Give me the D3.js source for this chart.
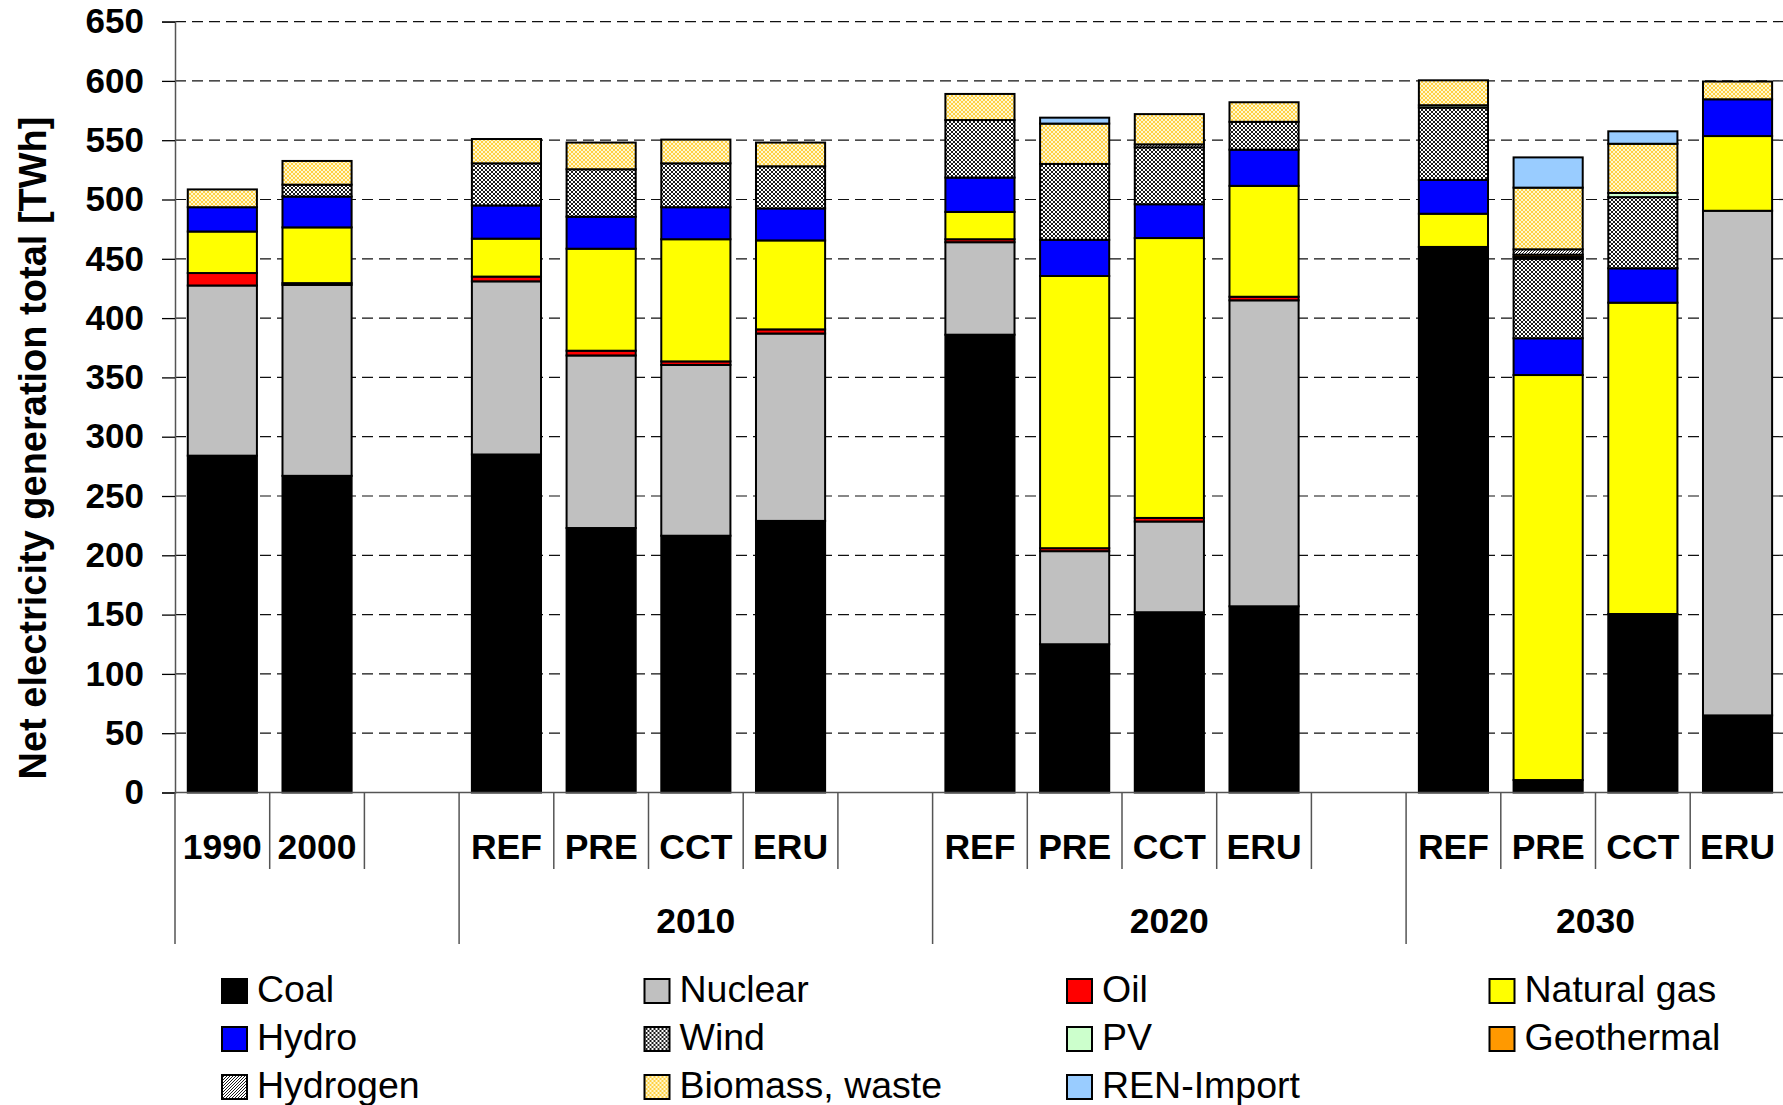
<!DOCTYPE html>
<html>
<head>
<meta charset="utf-8">
<script src="https://cdn.jsdelivr.net/npm/d3@7"></script>
<style>
  body { margin: 0; background: #fff; }
  svg { display: block; font-family: "Liberation Sans", Arial, sans-serif; }
</style>
</head>
<body>
<svg id="chart"></svg>
<script>
// categories (17 slots, blanks are spacer columns)
const categories = ["1990", "2000", "", "REF", "PRE", "CCT", "ERU", "", "REF", "PRE", "CCT", "ERU", "", "REF", "PRE", "CCT", "ERU"];
const groups = [
    {label: "", from: 0, to: 3},
    {label: "2010", from: 3, to: 8},
    {label: "2020", from: 8, to: 13},
    {label: "2030", from: 13, to: 17}
];

// TWh per source, one value per slot
const coal       = [284, 267, 0, 285, 223, 216.5, 229, 0, 386, 125, 152, 157, 0, 460, 10.5, 150.5, 65];
const nuclear    = [143.5, 161, 0, 146, 145.5, 144, 158, 0, 78, 78.5, 76.5, 258, 0, 0, 0, 0, 425.5];
const oil        = [10.5, 1.5, 0, 4, 4, 3, 3.5, 0, 2.5, 2.5, 3, 3, 0, 0, 0, 0, 0];
const naturalGas = [35, 47, 0, 32, 86, 103, 75, 0, 23, 229.5, 236, 93.5, 0, 28, 341.5, 262.5, 63];
const hydro      = [20.5, 26, 0, 28, 27, 27, 27, 0, 29, 30.5, 28.5, 30.5, 0, 28.5, 31, 29, 31];
const wind       = [0, 10, 0, 35.5, 40, 37, 35.5, 0, 48.5, 64, 48, 23.5, 0, 61, 67, 60, 0];
const pv         = [0, 0, 0, 0, 0, 0, 0, 0, 0, 0, 0, 0, 0, 2, 1.5, 3.5, 0];
const geothermal = [0, 0, 0, 0, 0, 0, 0, 0, 0, 0, 0, 0, 0, 0, 2, 0, 0];
const hydrogen   = [0, 0, 0, 0, 0, 0, 0, 0, 0, 0, 2.5, 0, 0, 0, 4.5, 0, 0];
const biomass    = [15, 20, 0, 20.5, 22.5, 20, 20, 0, 22, 34, 25.5, 16.5, 0, 21, 52, 41.5, 15];
const renImport  = [0, 0, 0, 0, 0, 0, 0, 0, 0, 5, 0, 0, 0, 0, 25.5, 10.5, 0];

const series = [
    {key: "coal", name: "Coal", values: coal, fill: "#000000"},
    {key: "nuclear", name: "Nuclear", values: nuclear, fill: "#C0C0C0"},
    {key: "oil", name: "Oil", values: oil, fill: "#FF0000"},
    {key: "gas", name: "Natural gas", values: naturalGas, fill: "#FFFF00"},
    {key: "hydro", name: "Hydro", values: hydro, fill: "#0000FF"},
    {key: "wind", name: "Wind", values: wind, fill: "url(#pat-wind)"},
    {key: "pv", name: "PV", values: pv, fill: "#CCFFCC"},
    {key: "geo", name: "Geothermal", values: geothermal, fill: "#FF9900"},
    {key: "h2", name: "Hydrogen", values: hydrogen, fill: "url(#pat-h2)"},
    {key: "bio", name: "Biomass, waste", values: biomass, fill: "url(#pat-bio)"},
    {key: "ren", name: "REN-Import", values: renImport, fill: "#99CCFF"}
];
// legend reads row by row, 4 columns
const legendOrder = ["coal", "nuclear", "oil", "gas", "hydro", "wind", "pv", "geo", "h2", "bio", "ren"];
const yTicks = d3.range(0, 651, 50);

const width = 1783, height = 1105;
const left = 175, step = 94.7;
const y0 = 792.5, yTop = 21.6;

const svg = d3.select("#chart").attr("width", width).attr("height", height);
svg.append("rect").attr("width", width).attr("height", height).attr("fill", "#fff");

// patterns
const defs = svg.append("defs");
const pw = defs.append("pattern").attr("id", "pat-wind").attr("patternUnits", "userSpaceOnUse")
    .attr("width", 4).attr("height", 4);
pw.append("rect").attr("width", 4).attr("height", 4).attr("fill", "#fff");
pw.append("path").attr("d", "M0,0L4,4M4,0L0,4")
    .attr("stroke", "#000").attr("stroke-width", 0.9);
const ph = defs.append("pattern").attr("id", "pat-h2").attr("patternUnits", "userSpaceOnUse")
    .attr("width", 3).attr("height", 3);
ph.append("rect").attr("width", 3).attr("height", 3).attr("fill", "#fff");
ph.append("path").attr("d", "M0,3L3,0M-1,1L1,-1M2,4L4,2").attr("stroke", "#000").attr("stroke-width", 0.9);
const pb = defs.append("pattern").attr("id", "pat-bio").attr("patternUnits", "userSpaceOnUse")
    .attr("width", 4).attr("height", 4);
pb.append("rect").attr("width", 4).attr("height", 4).attr("fill", "#FFF8D0");
pb.append("path").attr("d", "M0,0L4,4M4,0L0,4").attr("stroke", "#FFCC33").attr("stroke-width", 0.9);

// scales
const x = d3.scaleBand()
    .domain(d3.range(categories.length))
    .range([left, left + step * categories.length])
    .paddingInner(0.27).paddingOuter(0.135);
const y = d3.scaleLinear().domain([0, 650]).range([y0, yTop]);

// gridlines
svg.append("g")
    .selectAll("line")
    .data(yTicks.filter(d => d > 0))
    .join("line")
    .attr("x1", left).attr("x2", width)
    .attr("y1", d => y(d)).attr("y2", d => y(d))
    .attr("stroke", "#111").attr("stroke-width", 1.2)
    .attr("stroke-dasharray", "11,6");

// stacked bars
const rows = categories.map((c, i) => {
    const r = {i};
    series.forEach(s => r[s.key] = s.values[i]);
    return r;
});
const stack = d3.stack().keys(series.map(s => s.key))(rows);

svg.append("g")
    .selectAll("g")
    .data(stack)
    .join("g")
    .attr("fill", (d, k) => series[k].fill)
    .selectAll("rect")
    .data(d => d.filter(p => p[1] - p[0] > 0))
    .join("rect")
    .attr("x", d => x(d.data.i))
    .attr("width", x.bandwidth())
    .attr("y", d => y(d[1]))
    .attr("height", d => y(d[0]) - y(d[1]))
    .attr("stroke", "#000")
    .attr("stroke-width", 2);

// y axis
const yAxis = svg.append("g")
    .attr("transform", `translate(${left},0)`)
    .call(d3.axisLeft(y).tickValues(yTicks).tickSize(13).tickPadding(18));
yAxis.select(".domain").attr("stroke", "#555").attr("stroke-width", 1.5);
yAxis.selectAll(".tick line").attr("stroke", "#000").attr("stroke-width", 1.3);
yAxis.selectAll(".tick text")
    .attr("font-size", 35).attr("font-weight", "bold")
    .attr("font-family", "Liberation Sans, Arial, sans-serif").attr("fill", "#000");

svg.append("text")
    .attr("transform", "translate(33,448) rotate(-90)")
    .attr("text-anchor", "middle")
    .attr("dominant-baseline", "central")
    .attr("font-size", 38).attr("font-weight", "bold")
    .text("Net electricity generation total [TWh]");

// x axis (two levels)
svg.append("line")
    .attr("x1", left).attr("x2", width).attr("y1", y0).attr("y2", y0)
    .attr("stroke", "#555").attr("stroke-width", 1.5);

const groupEdges = groups.map(g => g.from);
const xg = svg.append("g");
xg.selectAll("line")
    .data(d3.range(categories.length + 1))
    .join("line")
    .attr("x1", i => left + i * step).attr("x2", i => left + i * step)
    .attr("y1", y0)
    .attr("y2", i => groupEdges.includes(i) || i === categories.length ? 944 : 869)
    .attr("stroke", "#555").attr("stroke-width", 1.5);

xg.selectAll("text.cat")
    .data(categories.map((c, i) => ({c, i})).filter(d => d.c))
    .join("text")
    .attr("class", "cat")
    .attr("x", d => x(d.i) + x.bandwidth() / 2)
    .attr("y", 859)
    .attr("text-anchor", "middle")
    .attr("font-size", 35.5).attr("font-weight", "bold")
    .text(d => d.c);

xg.selectAll("text.grp")
    .data(groups.filter(g => g.label))
    .join("text")
    .attr("class", "grp")
    .attr("x", g => left + (g.from + g.to) / 2 * step)
    .attr("y", 933)
    .attr("text-anchor", "middle")
    .attr("font-size", 35.5).attr("font-weight", "bold")
    .text(g => g.label);

// legend
const legend = svg.append("g");
const items = legend.selectAll("g")
    .data(legendOrder.map(k => series.find(s => s.key === k)))
    .join("g")
    .attr("transform", (d, i) => `translate(${222 + (i % 4) * 422.5},${979 + Math.floor(i / 4) * 48})`);
items.append("rect")
    .attr("width", 25).attr("height", 24)
    .attr("fill", d => d.fill)
    .attr("stroke", "#000").attr("stroke-width", 2);
items.append("text")
    .attr("x", 35).attr("y", 23)
    .attr("font-size", 37.5)
    .text(d => d.name);
</script>
</body>
</html>
